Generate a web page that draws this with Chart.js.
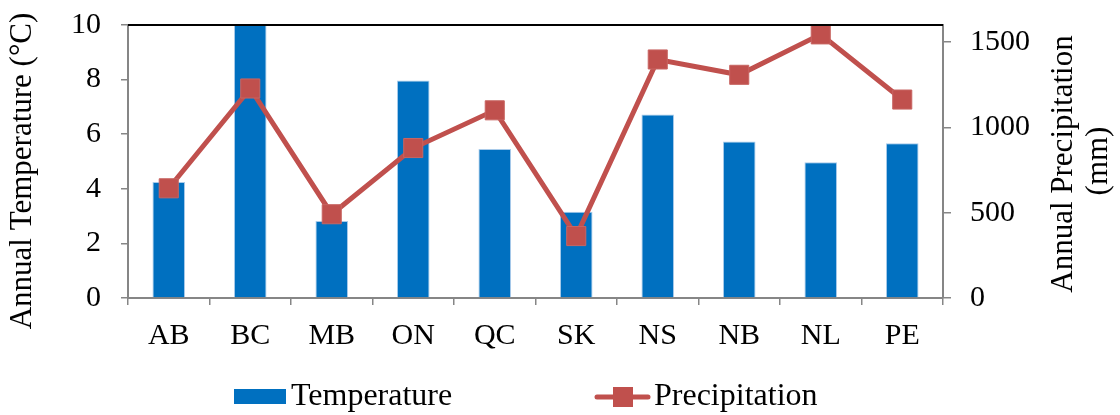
<!DOCTYPE html>
<html><head><meta charset="utf-8">
<script src="https://cdn.jsdelivr.net/npm/chart.js@4/dist/chart.umd.min.js"></script>
<style>html,body{margin:0;padding:0;background:#fff;}</style>
</head><body>
<canvas id="c" width="1120" height="415"></canvas>
<script>
const categories = ['AB','BC','MB','ON','QC','SK','NS','NB','NL','PE'];
const temperature = [4.25, 10, 2.82, 7.97, 5.46, 3.16, 6.72, 5.73, 4.97, 5.67];
const precipitation = [643, 1228, 491, 879, 1100, 363, 1398, 1308, 1545, 1163];
const tempTicks = [0, 2, 4, 6, 8, 10];
const precipTicks = [0, 500, 1000, 1500];
const tempTitle = 'Annual Temperature (°C)';
const precipTitle = ['Annual Precipitation', '(mm)'];
const seriesNames = ['Temperature', 'Precipitation'];

const BLUE = '#0070C0';
const RED = '#C0504D';
const AXIS = '#868686';
const FONT = 'Liberation Serif';

Chart.defaults.font.family = FONT;
Chart.defaults.color = '#000';

const decor = {
  id: 'decor',
  afterDraw(chart) {
    const ctx = chart.ctx;
    const a = chart.chartArea;
    ctx.save();
    // top border
    ctx.strokeStyle = '#000';
    ctx.lineWidth = 2;
    ctx.beginPath();
    ctx.moveTo(a.left, a.top);
    ctx.lineTo(a.right, a.top);
    ctx.stroke();
    // axis titles
    ctx.fillStyle = '#000';
    ctx.font = '31px "' + FONT + '"';
    ctx.textAlign = 'center';
    ctx.textBaseline = 'middle';
    ctx.save();
    ctx.translate(23, 171);
    ctx.rotate(-Math.PI / 2);
    ctx.fillText(tempTitle, 0, 0);
    ctx.restore();
    const rx = [1064, 1099];
    const ry = [164, 161];
    precipTitle.forEach((t, i) => {
      ctx.save();
      ctx.translate(rx[i], ry[i]);
      ctx.rotate(-Math.PI / 2);
      ctx.fillText(t, 0, 0);
      ctx.restore();
    });
    // legend
    ctx.font = '32px "' + FONT + '"';
    const ly = 397;
    ctx.fillStyle = BLUE;
    ctx.fillRect(234, 389, 52, 15);
    ctx.fillStyle = '#000';
    ctx.textAlign = 'left';
    ctx.fillText(seriesNames[0], 291, ly);
    ctx.strokeStyle = RED;
    ctx.lineWidth = 5;
    ctx.lineCap = 'round';
    ctx.beginPath();
    ctx.moveTo(597, ly);
    ctx.lineTo(648, ly);
    ctx.stroke();
    ctx.fillStyle = RED;
    ctx.fillRect(613, ly - 10, 20, 20);
    ctx.fillStyle = '#000';
    ctx.fillText(seriesNames[1], 654, ly);
    ctx.restore();
  }
};

new Chart(document.getElementById('c'), {
  data: {
    labels: categories,
    datasets: [
      {
        type: 'line',
        label: seriesNames[1],
        data: precipitation,
        yAxisID: 'y1',
        borderColor: RED,
        borderWidth: 5,
        pointStyle: 'rect',
        pointRadius: 13.5,
        pointBackgroundColor: RED,
        pointBorderColor: '#C86562',
        pointBorderWidth: 1,
        tension: 0,
        order: 0
      },
      {
        type: 'bar',
        label: seriesNames[0],
        data: temperature,
        yAxisID: 'y',
        backgroundColor: BLUE,
        borderColor: '#A9CBEA',
        borderWidth: 1,
        barPercentage: 0.4,
        categoryPercentage: 1,
        order: 1
      }
    ]
  },
  options: {
    responsive: false,
    animation: false,
    layout: { padding: { top: 25, left: 0, right: 0, bottom: 0 } },
    plugins: { legend: { display: false }, tooltip: { enabled: false } },
    scales: {
      x: {
        offset: true,
        grid: { display: true, drawOnChartArea: false, offset: true, color: AXIS, tickLength: 7, lineWidth: 1.5 },
        border: { color: AXIS, width: 2 },
        ticks: { font: { size: 30 }, padding: 13, color: '#000', maxRotation: 0 },
        afterFit(s) { s.height = 117; }
      },
      y: {
        position: 'left',
        min: 0, max: 10,
        afterBuildTicks(s) { s.ticks = tempTicks.map(v => ({ value: v })); },
        grid: { display: true, drawOnChartArea: false, color: AXIS, tickLength: 7, lineWidth: 1.5 },
        border: { color: AXIS, width: 2 },
        ticks: { font: { size: 30 }, padding: 20, color: '#000', callback: v => String(v) },
        afterFit(s) { s.width = 128; s.paddingTop = 0; s.paddingBottom = 0; }
      },
      y1: {
        position: 'right',
        min: 0, max: 1600,
        afterBuildTicks(s) { s.ticks = precipTicks.map(v => ({ value: v })); },
        grid: { display: true, drawOnChartArea: false, color: AXIS, tickLength: 8, lineWidth: 1.5 },
        border: { color: AXIS, width: 2 },
        ticks: { font: { size: 30 }, padding: 19, color: '#000', callback: v => String(v) },
        afterFit(s) { s.width = 177; s.paddingTop = 0; s.paddingBottom = 0; }
      }
    }
  },
  plugins: [decor]
});
</script>
</body></html>
